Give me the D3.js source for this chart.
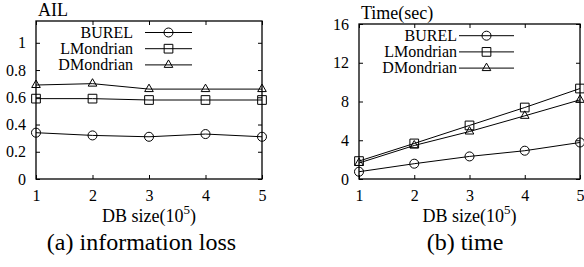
<!DOCTYPE html>
<html>
<head>
<meta charset="utf-8">
<script src="https://cdn.jsdelivr.net/npm/d3@7"></script>
<style>
body { margin:0; background:#fff; }
.domain { display:none; }
</style>
</head>
<body>
<svg id="fig" width="584" height="267"></svg>
<script>
// data
var dbSizes = [1, 2, 3, 4, 5];
var seriesNames = ["BUREL", "LMondrian", "DMondrian"];

var ailBurel = [0.34, 0.32, 0.31, 0.33, 0.31];
var ailLMondrian = [0.59, 0.59, 0.58, 0.58, 0.58];
var ailDMondrian = [0.69, 0.70, 0.66, 0.66, 0.66];

var timeBurel = [0.75, 1.58, 2.33, 2.92, 3.77];
var timeLMondrian = [1.85, 3.67, 5.53, 7.38, 9.34];
var timeDMondrian = [1.65, 3.46, 4.9, 6.52, 8.17];

var ailTicks = [0, 0.2, 0.4, 0.6, 0.8, 1];
var timeTicks = [0, 4, 8, 12, 16];

var symbols = [d3.symbolCircle, d3.symbolSquare, d3.symbolTriangle];
var symbolSizes = [64, 76, 32];

var serif = "'Liberation Serif','Times New Roman',serif";
var svg = d3.select("#fig").style("font-family", serif);

var drawPanel = function(opt)
{
    var g = svg.append("g");
    var xScale = d3.scaleLinear().domain([1, 5]).range([opt.left, opt.right]);
    var yScale = d3.scaleLinear().domain([0, opt.ymax]).range([opt.bottom, opt.top]);

    // frame
    g.append("rect")
        .attr("x", opt.left).attr("y", opt.top)
        .attr("width", opt.right - opt.left)
        .attr("height", opt.bottom - opt.top)
        .attr("fill", "none").attr("stroke", "#000").attr("stroke-width", 1.3);

    // gnuplot style: ticks point inwards and are mirrored
    var yAxis = d3.axisLeft(yScale).tickValues(opt.yticks).tickSize(-4).tickPadding(10)
        .tickFormat(d3.format("~g"));
    g.append("g").attr("transform", "translate(" + opt.left + ",0)").call(yAxis);

    var yAxisR = d3.axisRight(yScale).tickValues(opt.yticks).tickSize(-4).tickFormat("");
    g.append("g").attr("transform", "translate(" + opt.right + ",0)").call(yAxisR);

    var xAxis = d3.axisBottom(xScale).tickValues(dbSizes).tickSize(-4).tickPadding(11)
        .tickFormat(d3.format("d"));
    g.append("g").attr("transform", "translate(0," + opt.bottom + ")").call(xAxis);

    var xAxisT = d3.axisTop(xScale).tickValues(dbSizes).tickSize(-4).tickFormat("");
    g.append("g").attr("transform", "translate(0," + opt.top + ")").call(xAxisT);

    g.selectAll(".tick line").attr("stroke", "#000");
    g.selectAll(".tick text")
        .style("font-family", serif)
        .style("font-size", "16px");

    // lines and markers
    var line = d3.line()
        .x(function(d, i) { return xScale(dbSizes[i]); })
        .y(function(d) { return yScale(d); });

    opt.series.forEach(function(vals, s)
    {
        g.append("path").datum(vals)
            .attr("d", line)
            .attr("fill", "none").attr("stroke", "#000").attr("stroke-width", 1);
        g.selectAll(".m" + s).data(vals).enter().append("path")
            .attr("transform", function(d, i) {
                return "translate(" + xScale(dbSizes[i]) + "," + yScale(d) + ")";
            })
            .attr("d", d3.symbol().type(symbols[s]).size(symbolSizes[s]))
            .attr("fill", "none").attr("stroke", "#000").attr("stroke-width", 1);
    });

    // legend
    seriesNames.forEach(function(name, s)
    {
        var y = opt.legY + s * 16.2;
        g.append("text").text(name)
            .attr("x", opt.legText).attr("y", y)
            .attr("dy", "0.33em")
            .attr("text-anchor", "end")
            .style("font-family", serif)
            .style("font-size", "16px");
        g.append("line")
            .attr("x1", opt.legLine[0]).attr("x2", opt.legLine[1])
            .attr("y1", y).attr("y2", y)
            .attr("stroke", "#000").attr("stroke-width", 1);
        g.append("path")
            .attr("transform", "translate(" + (opt.legLine[0] + opt.legLine[1]) / 2 + "," + y + ")")
            .attr("d", d3.symbol().type(symbols[s]).size(symbolSizes[s]))
            .attr("fill", "none").attr("stroke", "#000").attr("stroke-width", 1);
    });

    // y label above axis
    g.append("text").text(opt.ylabel)
        .attr("x", opt.left + 2).attr("y", opt.top - 5)
        .style("font-family", serif)
        .style("font-size", "18px");

    // x label with superscript
    var xl = g.append("text")
        .attr("x", (opt.left + opt.right) / 2).attr("y", 222)
        .attr("text-anchor", "middle")
        .style("font-family", serif)
        .style("font-size", "18px");
    xl.append("tspan").text("DB size(10");
    xl.append("tspan").text("5").attr("dy", -8).style("font-size", "13px");
    xl.append("tspan").text(")").attr("dy", 8);

    // caption
    g.append("text").text(opt.caption)
        .attr("x", opt.capX).attr("y", 250)
        .attr("text-anchor", "middle")
        .style("font-family", serif)
        .style("font-size", "24px");
}

drawPanel({
    left:36, right:262, top:21, bottom:179, ymax:1.16,
    yticks:ailTicks, ylabel:"AIL", caption:"(a) information loss", capX:141.5,
    series:[ailBurel, ailLMondrian, ailDMondrian],
    legY:32.5, legText:133, legLine:[145, 192]
});

drawPanel({
    left:359, right:580, top:24, bottom:179, ymax:16,
    yticks:timeTicks, ylabel:"Time(sec)", caption:"(b) time", capX:465,
    series:[timeBurel, timeLMondrian, timeDMondrian],
    legY:35.7, legText:457, legLine:[459, 514]
});
</script>
</body>
</html>
